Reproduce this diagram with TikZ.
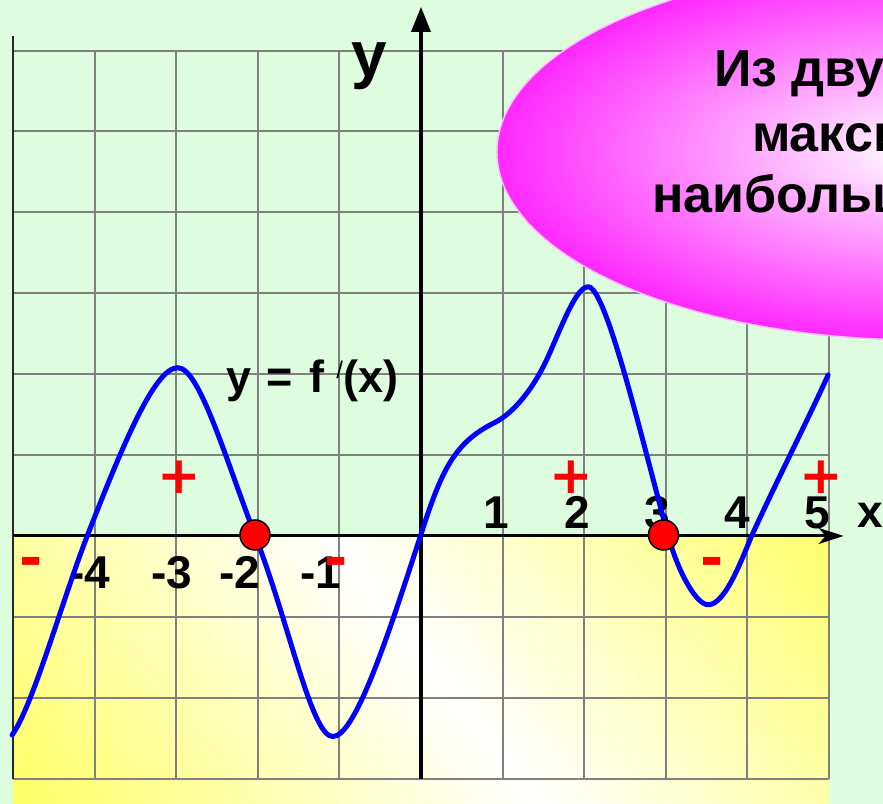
\documentclass[tikz,border=0pt]{standalone}
\usepackage{fontspec}
\setmainfont{Liberation Sans}
\newfontfamily\dejavu{DejaVu Sans}
\usetikzlibrary{arrows.meta,shapes.geometric}
\definecolor{bggreen}{RGB}{222,253,222}
\definecolor{yel}{RGB}{255,255,100}
\definecolor{mag}{RGB}{255,40,255}
\definecolor{gridgray}{RGB}{128,128,128}
\definecolor{borderdark}{RGB}{40,40,40}
\definecolor{curveblue}{RGB}{0,0,255}
\definecolor{signred}{RGB}{255,0,0}
\definecolor{rimpink}{RGB}{255,190,255}
\begin{document}
\begin{tikzpicture}[x=81.6pt,y=80.9pt,
  gridline/.style={draw=gridgray, line width=2pt},
  ticklabel/.style={font=\bfseries\fontsize{46}{46}\selectfont, inner sep=0pt, anchor=base},
  plussign/.style={text=signred, inner sep=0pt, font=\dejavu\bfseries\fontsize{52}{52}\selectfont},
  minussign/.style={text=signred, inner sep=0pt, anchor=base, font=\dejavu\bfseries\fontsize{56}{56}\selectfont},
  zerodot/.style={circle, fill=signred, draw=black, line width=1.5pt, minimum size=30pt, inner sep=0pt},
  notetext/.style={font=\bfseries\fontsize{52}{52}\selectfont, inner sep=0pt, anchor=base west}]
\useasboundingbox (-5.159,-3.313) rectangle (5.662,6.625);
\clip (-5.159,-3.313) rectangle (5.662,6.625);
\fill[bggreen] (-5.159,-3.313) rectangle (5.662,6.625);
% yellow lower panel with diagonal gradient
\begin{scope}
  \clip (-5,0) rectangle (5,-3.313);
  \begin{scope}[transform canvas={rotate around={37.6:(0.172,-1.656)}}]
    \shade[left color=yel, right color=yel, middle color=white] (-4.93,-8.66) rectangle (5.27,5.34);
  \end{scope}
\end{scope}
\draw[gridline, step=1] (-5,-3) grid (5,6);
\coordinate (lbot) at (-5,-3);
\coordinate (ltop) at (-5,6.18);
\draw[line width=2pt, borderdark] (lbot) -- (ltop);
% tick labels
\node[ticklabel] (t1) at (0.919,0.087) {1};
\node[ticklabel] (t2) at (1.912,0.087) {2};
\node[ticklabel] (t3) at (2.892,0.087) {3};
\node[ticklabel] (t4) at (3.873,0.087) {4};
\node[ticklabel] (t5) at (4.853,0.087) {5};
\node[ticklabel] (tm4) at (-4.056,-0.655) {-4};
\node[ticklabel] (tm3) at (-3.051,-0.655) {-3};
\node[ticklabel] (tm2) at (-2.218,-0.655) {-2};
\node[ticklabel] (tm1) at (-1.225,-0.655) {-1};
% axes
\coordinate (ybot) at (0,-3);
\coordinate (ytop) at (0,6.54);
\coordinate (xleft) at (-5,0);
\coordinate (xright) at (5.18,0);
\draw[line width=3.5pt, -{Triangle[width=19pt,length=25pt]}] (ybot) -- (ytop);
\draw[line width=3pt, -{Stealth[width=16pt,length=25pt,inset=7pt]}] (xleft) -- (xright);
\node[font=\bfseries\fontsize{64}{64}\selectfont, inner sep=0pt, anchor=base] (ylab) at (-0.637,5.674) {y};
\node[font=\bfseries\fontsize{46}{46}\selectfont, inner sep=0pt, anchor=base west] (xlab) at (5.343,0.099) {x};
\node[font=\bfseries\fontsize{45}{45}\selectfont, inner sep=0pt, anchor=base west] (flab) at (-2.39,1.768)
  {y\hspace{3pt} =\hspace{4pt} f\hspace{12pt}\raisebox{14pt}{\mdseries\fontsize{24}{24}\selectfont /}(x)};
% curve y = f'(x)
\draw[curveblue, line width=5pt, line join=round, line cap=round]
  (-5.01,-2.46) .. controls (-4.76,-2.11) and (-4.39,-0.78) .. (-4.09,0)
  .. controls (-3.646,1.15) and (-3.26,2.08) .. (-2.98,2.08)
  .. controls (-2.72,2.08) and (-2.41,1.0) .. (-2.03,0)
  .. controls (-1.61,-1.1) and (-1.34,-2.48) .. (-1.08,-2.48)
  .. controls (-0.80,-2.48) and (-0.38,-1.16) .. (0,0.02)
  .. controls (0.25,0.80) and (0.40,1.15) .. (0.9,1.40)
  .. controls (1.12,1.51) and (1.37,1.80) .. (1.55,2.2)
  .. controls (1.73,2.6) and (1.90,3.08) .. (2.05,3.08)
  .. controls (2.27,3.08) and (2.73,1.1) .. (3.03,0)
  .. controls (3.15,-0.44) and (3.37,-0.85) .. (3.52,-0.85)
  .. controls (3.74,-0.85) and (3.95,-0.23) .. (4.07,0.04)
  .. controls (4.37,0.70) and (4.69,1.33) .. (4.99,1.99);
% zeros
\node[zerodot] (z1) at (-2.034,0.012) {};
\node[zerodot] (z2) at (2.972,0.012) {};
% signs
\node[plussign] (p1) at (-2.966,0.729) {+};
\node[plussign] (p2) at (1.838,0.729) {+};
\node[plussign] (p3) at (4.902,0.729) {+};
\node[minussign] (m1) at (-4.779,-0.51) {-};
\node[minussign] (m2) at (-1.042,-0.51) {-};
\node[minussign] (m3) at (3.566,-0.51) {-};
% note
\node[ellipse, minimum width=846pt, minimum height=376pt, inner color=white, outer color=mag, draw=rimpink, line width=1.5pt] (note) at (6.115,4.747) {};
\node[notetext] (l1) at (3.591,5.550) {Из двух точек};
\node[notetext] (l2) at (4.056,4.747) {максимума};
\node[notetext] (l3) at (2.831,3.993) {наибольший};
\end{tikzpicture}
\end{document}
